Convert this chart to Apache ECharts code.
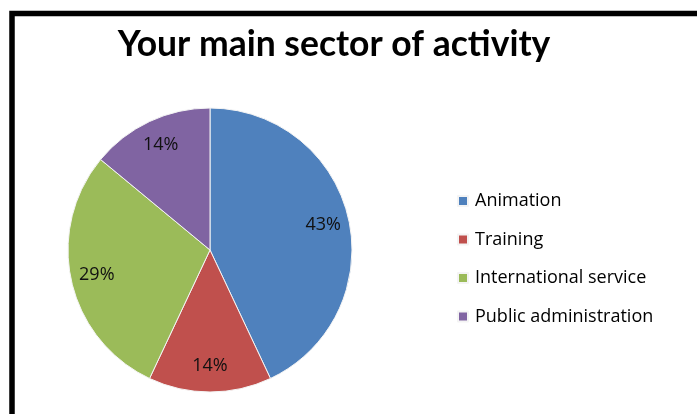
<!DOCTYPE html>
<html>
<head>
<meta charset="utf-8">
<script src="https://cdn.jsdelivr.net/npm/echarts@6/dist/echarts.min.js"></script>
<style>
  html, body { margin: 0; padding: 0; background: #fff; }
  #chart { width: 697px; height: 414px; }
</style>
</head>
<body>
<div id="chart"></div>
<script>
// Share of respondents by main sector of activity (percent)
const sectors = ['Animation', 'Training', 'International service', 'Public administration'];
const shares = [43, 14, 29, 14];
const colors = ['#4F81BD', '#C0504D', '#9BBB59', '#8064A2'];

const chart = echarts.init(document.getElementById('chart'), null, { renderer: 'canvas' });

const pieData = sectors.map((name, i) => ({ name: name, value: shares[i] }));
const center = [210, 250];
const radius = 142;

chart.setOption({
  animation: false,
  backgroundColor: '#fff',
  color: colors,
  title: {
    text: 'Your main sector of activity',
    left: 329,
    top: 22,
    textAlign: 'center',
    textStyle: {
      fontFamily: 'Lato',
      fontWeight: 'bold',
      fontSize: 35.5,
      color: '#000'
    }
  },
  legend: {
    orient: 'vertical',
    left: 457,
    top: 192,
    padding: 0,
    itemWidth: 10,
    itemHeight: 10,
    itemGap: 20.5,
    icon: 'rect',
    data: sectors,
    textStyle: {
      fontFamily: 'Open Sans',
      fontSize: 18,
      lineHeight: 18,
      color: '#000',
      padding: [0, 0, 0, 2]
    }
  },
  graphic: [{
    type: 'rect',
    shape: { x: 12, y: 13.5, width: 720, height: 440 },
    style: { fill: 'none', stroke: '#000', lineWidth: 5.5 },
    z: 100
  }],
  series: [
    {
      type: 'pie',
      center: center,
      radius: [0, radius],
      startAngle: 90,
      clockwise: true,
      data: pieData,
      label: { show: false },
      labelLine: { show: false },
      itemStyle: { borderColor: '#f4f4f4', borderWidth: 1 },
      emphasis: { disabled: true }
    },
    {
      // transparent ring that carries the percentage labels
      type: 'pie',
      center: center,
      radius: [84, radius],
      startAngle: 90,
      clockwise: true,
      silent: true,
      data: pieData,
      itemStyle: { color: 'rgba(0,0,0,0)' },
      label: {
        show: true,
        position: 'inside',
        formatter: '{c}%',
        fontFamily: 'Open Sans',
        fontSize: 18,
        color: '#111'
      },
      labelLine: { show: false },
      emphasis: { disabled: true }
    }
  ]
});
</script>
</body>
</html>
